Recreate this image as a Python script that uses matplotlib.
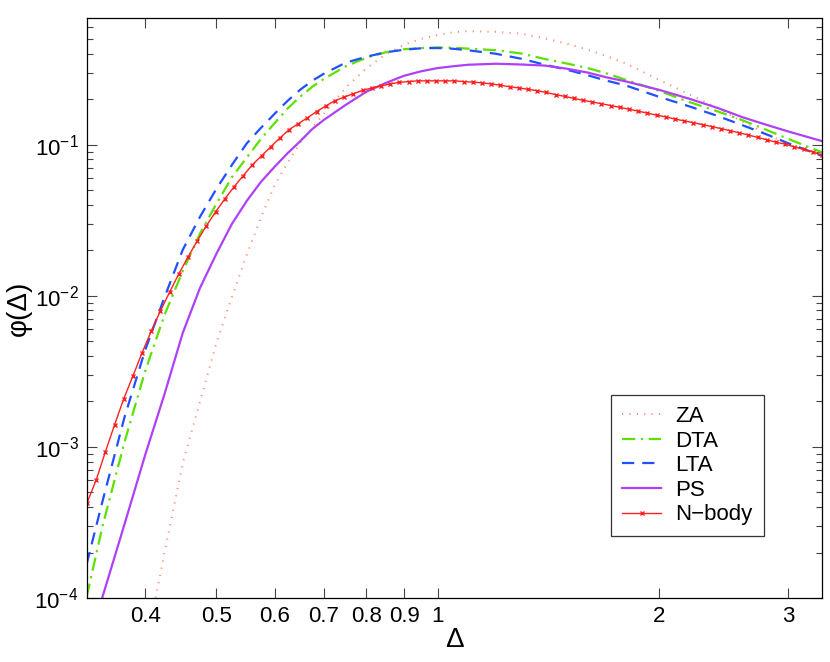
import numpy as np
import matplotlib
matplotlib.use('Agg')
import matplotlib.pyplot as plt

plt.rcParams['font.family'] = ['Liberation Sans', 'DejaVu Sans']
plt.rcParams['mathtext.default'] = 'regular'

delta = [0.333, 0.35, 0.375, 0.4, 0.425, 0.45, 0.475, 0.5, 0.525, 0.55, 0.575,
         0.6, 0.625, 0.65, 0.675, 0.7, 0.75, 0.8, 0.85, 0.9, 0.95, 1.0, 1.05,
         1.1, 1.2, 1.3, 1.4, 1.5, 1.6, 1.7, 1.8, 2.0, 2.2, 2.4, 2.6, 2.8, 3.0,
         3.333]

za = [None, None, 8.5e-6, 4.5e-5, 1.99e-4, 7.83e-4, 2.0e-3, 4.88e-3, 9.85e-3,
      1.87e-2, 3.31e-2, 5.39e-2, 0.0762, 0.103, 0.1296, 0.1604, 0.2392, 0.321,
      0.3975, 0.4596, 0.5035, 0.5326, 0.556, 0.565, 0.560, 0.5434, 0.507,
      0.4666, 0.4257, 0.3856, 0.3465, 0.2694, 0.2160, 0.1758, 0.1420, 0.1183,
      0.1015, 0.0859]
dta = [1.02e-4, 3.0e-4, 1.08e-3, 3.18e-3, 7.48e-3, 1.46e-2, 2.59e-2, 4.07e-2,
       6.10e-2, 0.0824, 0.1096, 0.1390, 0.1739, 0.2079, 0.2421, 0.2728, 0.3311,
       0.3770, 0.4099, 0.4291, 0.4370, 0.4410, 0.4390, 0.4330, 0.423, 0.402,
       0.3694, 0.3449, 0.3221, 0.2961, 0.2702, 0.2278, 0.1918, 0.1669, 0.1453,
       0.1257, 0.1093, 0.0892]
lta = [1.68e-4, 4.38e-4, 1.58e-3, 4.38e-3, 9.8e-3, 2.02e-2, 3.34e-2, 5.11e-2,
       7.37e-2, 0.1023, 0.1296, 0.1604, 0.1956, 0.2313, 0.2653, 0.2953, 0.3498,
       0.3826, 0.4099, 0.4257, 0.4356, 0.4370, 0.4323, 0.4224, 0.4005, 0.3711,
       0.3387, 0.3138, 0.2886, 0.2653, 0.2477, 0.2079, 0.1796, 0.1556, 0.1346,
       0.1174, 0.1023, 0.0846]
ps = [4.5e-5, 1.02e-4, 3.09e-4, 8.85e-4, 2.24e-3, 5.69e-3, 1.13e-2, 1.90e-2,
      3.00e-2, 4.26e-2, 5.69e-2, 7.15e-2, 0.0880, 0.1055, 0.127, 0.146, 0.1840,
      0.2247, 0.2566, 0.2864, 0.3067, 0.3221, 0.3311, 0.3387, 0.3439, 0.340,
      0.3345, 0.3187, 0.3007, 0.2791, 0.2633, 0.2313, 0.2017, 0.1758, 0.1521,
      0.1357, 0.1225, 0.1058]

# N-body measurements on a log grid from 1/3 to 10/3
delta_nb = np.logspace(np.log10(1 / 3), np.log10(10 / 3), 81)
nbody = [4.26e-4, 6.04e-4, 9.27e-4, 1.40e-3, 2.08e-3, 2.95e-3, 4.20e-3, 5.86e-3,
         7.96e-3, 1.06e-2, 1.40e-2, 1.81e-2, 2.31e-2, 2.91e-2, 3.60e-2, 4.38e-2,
         5.27e-2, 6.24e-2, 7.38e-2, 8.45e-2, 9.70e-2, 0.111, 0.126, 0.138,
         0.151, 0.166, 0.181, 0.196, 0.207, 0.218, 0.229, 0.238, 0.245, 0.253,
         0.259, 0.262, 0.265, 0.265, 0.265, 0.265, 0.265, 0.262, 0.260, 0.257,
         0.253, 0.248, 0.242, 0.238, 0.233, 0.228, 0.222, 0.215, 0.209, 0.203,
         0.197, 0.192, 0.187, 0.182, 0.177, 0.172, 0.167, 0.162, 0.157, 0.153,
         0.148, 0.144, 0.140, 0.136, 0.132, 0.128, 0.124, 0.120, 0.116, 0.112,
         0.108, 0.104, 0.101, 0.0968, 0.0932, 0.0897, 0.0852]

xticks = [0.4, 0.5, 0.6, 0.7, 0.8, 0.9, 1, 2, 3]
xticklabels = ['0.4', '0.5', '0.6', '0.7', '0.8', '0.9', '1', '2', '3']

fig = plt.figure(figsize=(8.3, 6.62), dpi=100)
ax = fig.add_axes([0.1048, 0.0967, 0.8855, 0.876])

za_x = [d for d, v in zip(delta, za) if v is not None]
za_y = [v for v in za if v is not None]
ax.plot(za_x, za_y, color='#ff8a6e', lw=1.4, dashes=(0.6, 3.2), label='ZA')
ax.plot(delta, dta, color='#5ee000', lw=1.6, dashes=(6, 2.5, 1, 2.5), label='DTA')
ax.plot(delta, lta, color='#2050ff', lw=1.6, dashes=(5.5, 3.6), label='LTA')
ax.plot(delta, ps, color='#b040f5', lw=1.6, label='PS')
ax.plot(delta_nb, nbody, color='#ff2020', lw=1.0, marker='x', ms=3.3, mew=1.0,
        label='N\u2212body')

ax.set_xscale('log')
ax.set_yscale('log')
ax.set_xlim(1 / 3, 10 / 3)
ax.set_ylim(1e-4, 0.69)

ax.set_xticks(xticks)
ax.set_xticklabels(xticklabels)
ax.xaxis.set_minor_locator(matplotlib.ticker.NullLocator())
ax.tick_params(which='both', direction='in', top=True, right=True,
               labelsize=16, width=0.8, color='#444444')
ax.tick_params(which='major', length=7, pad=6)
ax.tick_params(which='minor', length=4)
for s in ax.spines.values():
    s.set_linewidth(0.9)

ax.set_xlabel('\u0394', fontsize=20, labelpad=0)
ax.set_ylabel('\u03c6(\u0394)', fontsize=20, labelpad=2)

leg = ax.legend(loc='upper left', bbox_to_anchor=(0.713, 0.35), borderaxespad=0,
                fontsize=16, handlelength=1.75, handletextpad=0.65,
                labelspacing=0.16, borderpad=0.5, fancybox=False)
leg.get_frame().set_edgecolor('black')
leg.get_frame().set_linewidth(0.9)

fig.savefig('out.png', dpi=100)
